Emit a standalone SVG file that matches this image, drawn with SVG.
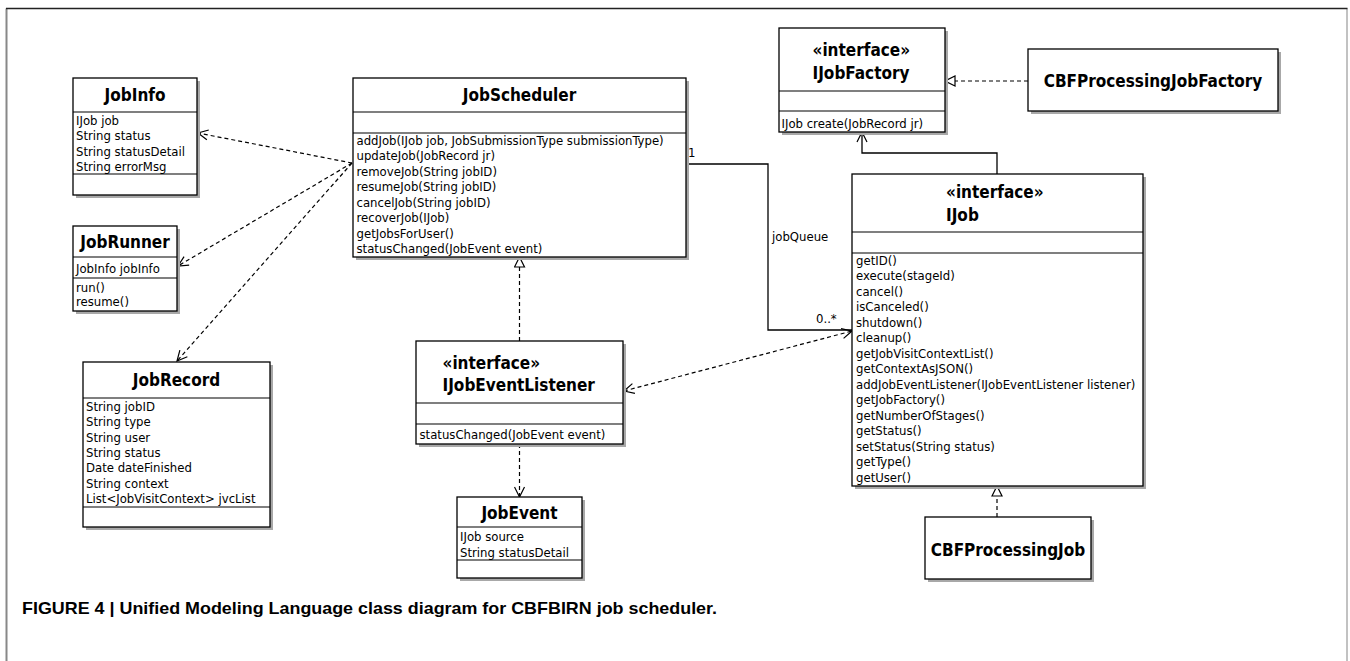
<svg xmlns="http://www.w3.org/2000/svg" width="1350" height="661" viewBox="0 0 1350 661">
<style>
.box{fill:#fff;stroke:#000;stroke-width:1.3}
.sh{fill:#a8a8a8}
.sep{stroke:#000;stroke-width:1.2}
.t{font-family:"DejaVu Sans Condensed","DejaVu Sans",sans-serif;font-stretch:condensed;font-weight:bold;font-size:17px;fill:#000}
.b{font-family:"DejaVu Sans Condensed","DejaVu Sans",sans-serif;font-stretch:condensed;font-size:13px;fill:#000}
.c{text-anchor:middle}
.dash{fill:none;stroke:#000;stroke-width:1.2;stroke-dasharray:4 3}
.sol{fill:none;stroke:#000;stroke-width:1.3}
.cap{font-family:"Liberation Sans",Arial,sans-serif;font-weight:bold;font-size:16.5px;fill:#000}
</style>
<defs>
<marker id="open" viewBox="0 0 12 12" refX="11" refY="6" markerWidth="12" markerHeight="12" markerUnits="userSpaceOnUse" orient="auto-start-reverse">
<path d="M1,1 L11,6 L1,11" fill="none" stroke="#000" stroke-width="1.2"/>
</marker>
<marker id="tri" viewBox="0 0 12 12" refX="11" refY="6" markerWidth="12" markerHeight="12" markerUnits="userSpaceOnUse" orient="auto">
<path d="M1,1 L11,6 L1,11 Z" fill="#fff" stroke="#000" stroke-width="1.2"/>
</marker>
</defs>
<rect width="1350" height="661" fill="#fff"/>
<g id="frame">
<line x1="6.5" y1="8.5" x2="6.5" y2="661" stroke="#888" stroke-width="2"/>
<line x1="1347" y1="8.5" x2="1347" y2="661" stroke="#999" stroke-width="1.2"/>
<line x1="6" y1="8.5" x2="1347.5" y2="8.5" stroke="#222" stroke-width="1.3"/>
</g>

<g id="connectors">
<path class="dash" d="M352,163 L198,133" marker-end="url(#open)"/>
<path class="dash" d="M352,163 L178,266" marker-end="url(#open)"/>
<path class="dash" d="M352,163 L177,361" marker-end="url(#open)"/>
<path class="dash" d="M519.5,341 L519.5,257" marker-end="url(#tri)"/>
<path class="dash" d="M519.5,444 L519.5,497" marker-end="url(#open)"/>
<path class="dash" d="M624,391 L852,331" marker-start="url(#open)" marker-end="url(#open)"/>
<path class="sol" d="M686,164 L768,164 L768,330 L852,330"/>
<path class="sol" d="M997,174 L997,153 L862,153 L862,132" marker-end="url(#open)"/>
<path class="dash" d="M1028,81 L945,81" marker-end="url(#tri)"/>
<path class="dash" d="M997,517 L997,486" marker-end="url(#tri)"/>
<text class="b" x="688" y="157">1</text>
<text class="b" x="772" y="241">jobQueue</text>
<text class="b" x="816" y="323">0..*</text>
</g>

<g id="JobInfo">
<rect class="sh" x="76" y="81" width="124" height="117"/>
<rect class="box" x="73" y="78" width="124" height="117"/>
<text class="t c" x="135" y="101">JobInfo</text>
<line class="sep" x1="73" y1="112" x2="197" y2="112"/>
<text class="b" x="76" y="124.5">IJob job</text>
<text class="b" x="76" y="140">String status</text>
<text class="b" x="76" y="155.5">String statusDetail</text>
<text class="b" x="76" y="171">String errorMsg</text>
<line class="sep" x1="73" y1="174" x2="197" y2="174"/>
</g>

<g id="JobRunner">
<rect class="sh" x="76" y="229" width="104" height="85"/>
<rect class="box" x="73" y="226" width="104" height="85"/>
<text class="t c" x="125" y="248">JobRunner</text>
<line class="sep" x1="73" y1="257" x2="177" y2="257"/>
<text class="b" x="76" y="272.5">JobInfo jobInfo</text>
<line class="sep" x1="73" y1="278" x2="177" y2="278"/>
<text class="b" x="76" y="291.5">run()</text>
<text class="b" x="76" y="305.5">resume()</text>
</g>

<g id="JobRecord">
<rect class="sh" x="86" y="365" width="187" height="165"/>
<rect class="box" x="83" y="362" width="187" height="165"/>
<text class="t c" x="176.5" y="386">JobRecord</text>
<line class="sep" x1="83" y1="398" x2="270" y2="398"/>
<text class="b" x="86" y="410.5">String jobID</text>
<text class="b" x="86" y="426">String type</text>
<text class="b" x="86" y="441.5">String user</text>
<text class="b" x="86" y="456.5">String status</text>
<text class="b" x="86" y="472">Date dateFinished</text>
<text class="b" x="86" y="487.5">String context</text>
<text class="b" x="86" y="503">List&lt;JobVisitContext&gt; jvcList</text>
<line class="sep" x1="83" y1="507" x2="270" y2="507"/>
</g>

<g id="JobScheduler">
<rect class="sh" x="356" y="81" width="333" height="179"/>
<rect class="box" x="353" y="78" width="333" height="179"/>
<text class="t c" x="519.5" y="101">JobScheduler</text>
<line class="sep" x1="353" y1="112" x2="686" y2="112"/>
<line class="sep" x1="353" y1="133" x2="686" y2="133"/>
<text class="b" x="356.5" y="144.5">addJob(IJob job, JobSubmissionType submissionType)</text>
<text class="b" x="356.5" y="160">updateJob(JobRecord jr)</text>
<text class="b" x="356.5" y="175.5">removeJob(String jobID)</text>
<text class="b" x="356.5" y="191">resumeJob(String jobID)</text>
<text class="b" x="356.5" y="206.5">cancelJob(String jobID)</text>
<text class="b" x="356.5" y="222">recoverJob(IJob)</text>
<text class="b" x="356.5" y="237.5">getJobsForUser()</text>
<text class="b" x="356.5" y="253">statusChanged(JobEvent event)</text>
</g>

<g id="IJobEventListener">
<rect class="sh" x="419" y="344" width="207" height="103"/>
<rect class="box" x="416" y="341" width="207" height="103"/>
<text class="t" x="442.5" y="369">«interface»</text>
<text class="t" x="442.5" y="391">IJobEventListener</text>
<line class="sep" x1="416" y1="403" x2="623" y2="403"/>
<line class="sep" x1="416" y1="424" x2="623" y2="424"/>
<text class="b" x="419.5" y="439">statusChanged(JobEvent event)</text>
</g>

<g id="JobEvent">
<rect class="sh" x="460" y="500" width="125" height="81"/>
<rect class="box" x="457" y="497" width="125" height="81"/>
<text class="t c" x="519.5" y="519">JobEvent</text>
<line class="sep" x1="457" y1="527" x2="582" y2="527"/>
<text class="b" x="460" y="541">IJob source</text>
<text class="b" x="460" y="556.5">String statusDetail</text>
<line class="sep" x1="457" y1="560" x2="582" y2="560"/>
</g>

<g id="IJobFactory">
<rect class="sh" x="782" y="31" width="166" height="104"/>
<rect class="box" x="779" y="28" width="166" height="104"/>
<text class="t" x="812.5" y="56">«interface»</text>
<text class="t" x="812.5" y="79">IJobFactory</text>
<line class="sep" x1="779" y1="91" x2="945" y2="91"/>
<line class="sep" x1="779" y1="111" x2="945" y2="111"/>
<text class="b" x="781.5" y="127.5">IJob create(JobRecord jr)</text>
</g>

<g id="CBFProcessingJobFactory">
<rect class="sh" x="1031" y="52" width="250" height="62"/>
<rect class="box" x="1028" y="49" width="250" height="62"/>
<text class="t c" x="1153" y="87">CBFProcessingJobFactory</text>
</g>

<g id="IJob">
<rect class="sh" x="855" y="177" width="291" height="312"/>
<rect class="box" x="852" y="174" width="291" height="312"/>
<text class="t" x="946" y="198">«interface»</text>
<text class="t" x="946" y="221">IJob</text>
<line class="sep" x1="852" y1="232" x2="1143" y2="232"/>
<line class="sep" x1="852" y1="253" x2="1143" y2="253"/>
<text class="b" x="856" y="264.5">getID()</text>
<text class="b" x="856" y="280">execute(stageId)</text>
<text class="b" x="856" y="295.5">cancel()</text>
<text class="b" x="856" y="311">isCanceled()</text>
<text class="b" x="856" y="326.5">shutdown()</text>
<text class="b" x="856" y="342">cleanup()</text>
<text class="b" x="856" y="357.5">getJobVisitContextList()</text>
<text class="b" x="856" y="373">getContextAsJSON()</text>
<text class="b" x="856" y="388.5">addJobEventListener(IJobEventListener listener)</text>
<text class="b" x="856" y="404">getJobFactory()</text>
<text class="b" x="856" y="419.5">getNumberOfStages()</text>
<text class="b" x="856" y="435">getStatus()</text>
<text class="b" x="856" y="450.5">setStatus(String status)</text>
<text class="b" x="856" y="466">getType()</text>
<text class="b" x="856" y="481.5">getUser()</text>
</g>

<g id="CBFProcessingJob">
<rect class="sh" x="928" y="520" width="166" height="62"/>
<rect class="box" x="925" y="517" width="166" height="62"/>
<text class="t c" x="1008" y="556">CBFProcessingJob</text>
</g>

<g id="caption">
<text class="cap" x="22" y="614" textLength="695" lengthAdjust="spacingAndGlyphs">FIGURE 4 | Unified Modeling Language class diagram for CBFBIRN job scheduler.</text>
</g>
</svg>
